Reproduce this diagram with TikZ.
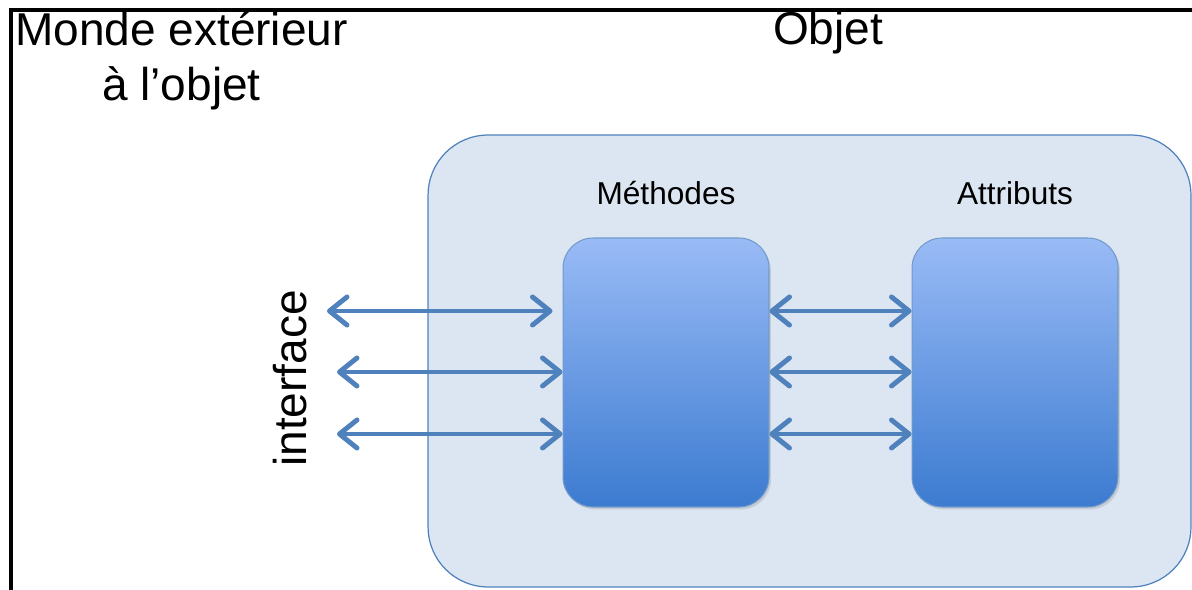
\documentclass[tikz,border=0pt]{standalone}
\usepackage{fontspec}
\setmainfont{Liberation Sans}
\usepackage{tikz}
\usepackage{xcolor}
\usetikzlibrary{arrows.meta,shadows}

\definecolor{boxblue}{HTML}{4F81BD}
\definecolor{paleblue}{HTML}{DCE6F2}
\definecolor{topblue}{HTML}{99BBF6}
\definecolor{botblue}{HTML}{3C7BD0}

\begin{document}
\begin{tikzpicture}[
    x=0.02cm, y=-0.02cm,
    objetbox/.style={draw=boxblue, fill=paleblue, line width=0.7pt,
        rounded corners=1.2cm, minimum width=15.26cm, minimum height=9.04cm},
    partbox/.style={draw=boxblue!80, line width=0.6pt, rounded corners=0.6cm,
        top color=topblue, bottom color=botblue,
        minimum width=4.12cm, minimum height=5.38cm,
        drop shadow={opacity=0.25, shadow xshift=0.04cm, shadow yshift=-0.05cm}},
    bigtext/.style={font=\fontsize{26.2}{31.3}\selectfont, inner sep=0pt},
    smalltext/.style={font=\fontsize{18}{21}\selectfont, inner sep=0pt},
    link/.style={draw=boxblue, line width=2.8pt, line cap=round,
        {Straight Barb[length=10pt,width=16pt,round]}-{Straight Barb[length=10pt,width=16pt,round]}}
]
\useasboundingbox (0,0) rectangle (1192,590);

% frame
\draw[line width=2.2pt] (11,590) -- (11,10) -- (1192,10);

% the object and its two parts
\node[objetbox] (objet) at (809.5,361) {};
\node[partbox] (methodes) at (666,372.5) {};
\node[partbox] (attributs) at (1015,372.5) {};
\node[smalltext, anchor=base] (methlabel) at (666,205) {Méthodes};
\node[smalltext, anchor=base] (attrlabel) at (1015,205) {Attributs};

% titles
\node[bigtext, align=center, anchor=north] (monde) at (181.5,11) {Monde extérieur\\à l’objet};
\node[bigtext, anchor=base] (titre) at (828,45) {Objet};
\node[bigtext, anchor=base, rotate=90] (iface) at (306,378.5) {interface};

% interface arrows
\coordinate (ext1) at (327,311);
\coordinate (ext2) at (337,372);
\coordinate (ext3) at (337,434);
\draw[link, shorten >=0.2cm] (ext1) -- (ext1 -| methodes.west);
\draw[link] (ext2) -- (ext2 -| methodes.west);
\draw[link] (ext3) -- (ext3 -| methodes.west);

% methods <-> attributes
\foreach \y in {311,372,434}
    \draw[link] (methodes.east |- 0,\y) -- (attributs.west |- 0,\y);
\end{tikzpicture}
\end{document}
